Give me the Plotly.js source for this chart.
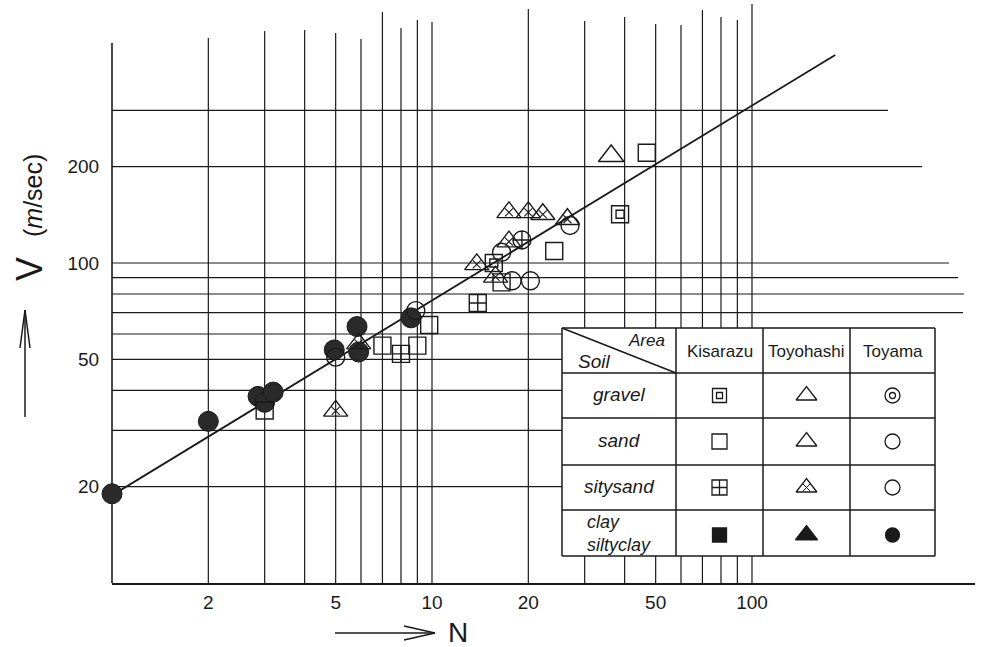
<!DOCTYPE html>
<html><head><meta charset="utf-8">
<script src="https://cdn.plot.ly/plotly-3.0.1.min.js"></script>
<style>body{margin:0;background:#fff}</style>
</head><body><div id="chart" style="width:992px;height:647px"></div>
<script>
// ---------- data (N value, V in m/sec) ----------
const kisGravelN = [15.6, 38.7];
const kisGravelV = [100, 142];
const kisSandN = [3.0, 7.0, 9.0, 9.8, 16.5, 24.1, 46.9];
const kisSandV = [34.6, 55.2, 55.2, 64, 87, 109, 221];
const kisSiltySandN = [8.0, 13.9];
const kisSiltySandV = [52, 75];
const toyoGravelN = [36.3];
const toyoGravelV = [216];
const toyoSiltySandN = [5.0, 5.9, 13.8, 15.8, 17.4, 17.4, 20, 22.2, 26.5];
const toyoSiltySandV = [34.5, 56, 99, 90.5, 116.6, 144, 144, 142, 137];
const toyamaSandN = [5.0, 8.9, 16.5, 17.8, 20.3, 27];
const toyamaSandV = [50.8, 71, 108, 88, 88, 131];
const toyamaCrossN = [19.1];
const toyamaCrossV = [118];
const toyamaClayN = [1.0, 2.0, 2.86, 3.0, 3.19, 4.95, 5.83, 5.9, 8.6];
const toyamaClayV = [19, 32, 38.3, 36.7, 39.5, 53.5, 63.3, 52.7, 67.4];
const fitN = [0.84, 182];
const fitV = [16.9, 447];

const gridN = [2,3,4,5,6,7,8,9,10,20,30,40,50,60,70,80,90,100];
const gridV = [20,30,40,50,60,70,80,90,100,200,300];
const xTickVals = [2,5,10,20,50,100];
const yTickVals = [20,50,100,200];

const areas = ['Kisarazu','Toyohashi','Toyama'];
const soils = ['gravel','sand','sitysand','clay<br>siltyclay'];

// ---------- layout geometry (pixels) ----------
const L=112, R=975, T=4, B=583;
const XR=[0, 2.6969], YR=[1, 2.8094];
const px = x => (x-L)/(R-L);
const py = y => (B-y)/(B-T);
const lx = n => (Math.log10(n)-XR[0])/(XR[1]-XR[0]);
const ly = v => (Math.log10(v)-YR[0])/(YR[1]-YR[0]);
const tbl = {x0:562, x1:935, y0:328, y1:556, cols:[676,763,850], rows:[373,418,465,510]};
const vTopPx = {2:38,3:31,4:30,5:33,6:39,7:12,8:28,9:20,10:22,20:9,30:21,40:17,50:24,60:25,70:10,80:17,90:20,100:4};
const hEndPx = {20:562,30:562,40:562,50:562,60:562,70:963,80:964,90:958,100:949,200:922,300:888};

const ink = '#1a1a1a';
const shapes = [];
function seg(x0,y0,x1,y1,w){shapes.push({type:'line',xref:'paper',yref:'paper',x0:x0,y0:y0,x1:x1,y1:y1,line:{color:ink,width:w||1.2},layer:'below'});}
// y axis line
seg(0, 0, 0, py(43), 1.6);
// vertical grid
gridN.forEach(n=>{
  const x=lx(n); const pxX = L + x*(R-L);
  const top = py(vTopPx[n]);
  if (pxX>tbl.x0 && pxX<tbl.x1){ seg(x,0,x,py(tbl.y1)); seg(x,py(tbl.y0),x,top); }
  else seg(x,0,x,top);
});
// horizontal grid
gridV.forEach(v=>{ seg(0, ly(v), px(hEndPx[v]), ly(v)); });
// legend table
function tl(x0,y0,x1,y1){shapes.push({type:'line',xref:'paper',yref:'paper',x0:px(x0),y0:py(y0),x1:px(x1),y1:py(y1),line:{color:ink,width:1.5}});}
tl(tbl.x0,tbl.y0,tbl.x1,tbl.y0); tl(tbl.x0,tbl.y1,tbl.x1,tbl.y1);
tl(tbl.x0,tbl.y0,tbl.x0,tbl.y1); tl(tbl.x1,tbl.y0,tbl.x1,tbl.y1);
tbl.cols.forEach(c=>tl(c,tbl.y0,c,tbl.y1));
tbl.rows.forEach(r=>tl(tbl.x0,r,tbl.x1,r));
tl(tbl.x0,tbl.y0,tbl.cols[0],tbl.rows[0]);
// axis arrows
tl(25,417,25,310); tl(25,310,20,348); tl(25,310,30,348);
tl(335,633,435,633); tl(435,633,404,626); tl(435,633,404,640);

const annotations = [];
function txt(t,x,y,size,opts){annotations.push(Object.assign({text:t,xref:'paper',yref:'paper',x:px(x),y:py(y),xanchor:'center',yanchor:'middle',showarrow:false,font:{family:'Liberation Sans, DejaVu Sans, sans-serif',size:size,color:ink}},opts||{}));}
txt('V  <span style="font-size:25px">(<i>m</i>/sec)</span>',29,218,36,{textangle:-90});
txt('N',458,632,28);
txt('<i>Area</i>',646,341,17);
txt('<i>Soil</i>',594,361,19);
const colCenters=[(tbl.cols[0]+tbl.cols[1])/2,(tbl.cols[1]+tbl.cols[2])/2,(tbl.cols[2]+tbl.x1)/2];
const rowCenters=[(tbl.rows[0]+tbl.rows[1])/2,(tbl.rows[1]+tbl.rows[2])/2,(tbl.rows[2]+tbl.rows[3])/2,(tbl.rows[3]+tbl.y1)/2];
areas.forEach((a,i)=>txt(a,colCenters[i],351,17));
soils.forEach((s,i)=>txt('<i>'+s+'</i>',(tbl.x0+tbl.cols[0])/2,rowCenters[i]+(i===3?0:-1),i===3?18:19,{align:'left'}));

// ---------- traces ----------
const base = {type:'scatter',mode:'markers',cliponaxis:false,showlegend:false,hoverinfo:'skip'};
function mk(N,V,symbol,size,extra){return Object.assign({},base,{x:N,y:V,marker:Object.assign({symbol:symbol,size:size,color:ink,line:{color:ink,width:1.4}},extra||{})});}
const traces = [
  {type:'scatter',mode:'lines',x:fitN,y:fitV,cliponaxis:false,showlegend:false,hoverinfo:'skip',line:{color:ink,width:1.8}},
  mk(toyamaClayN,toyamaClayV,'circle',20,{color:'#2a2a2a',line:{color:ink,width:1}}),
  mk(kisGravelN,kisGravelV,'square-open',17),
  mk(kisGravelN,kisGravelV,'square-open',8),
  mk(kisSandN,kisSandV,'square-open',17),
  mk(kisSiltySandN,kisSiltySandV,'square-cross-open',17),
  mk(toyoGravelN,toyoGravelV,'triangle-up-open',22),
  mk(toyoSiltySandN,toyoSiltySandV,'triangle-up-open',21),
  mk(toyoSiltySandN,toyoSiltySandV,'x-thin-open',8,{line:{color:ink,width:1.1}}),
  mk(toyamaSandN,toyamaSandV,'circle-open',18),
  mk(toyamaCrossN,toyamaCrossV,'circle-cross-open',18)
];
// legend markers (in table, drawn on helper axes in paper units)
const legSym = [
  [['square-open',14],['triangle-up-open',18],['circle-open',15]],
  [['square-open',15],['triangle-up-open',18],['circle-open',15]],
  [['square-cross-open',15],['triangle-up-open',18],['circle-open',15]],
  [['square',14],['triangle-up',19],['circle',14]]
];
legSym.forEach((row,r)=>row.forEach((s,c)=>{
  traces.push(Object.assign({},base,{xaxis:'x2',yaxis:'y2',x:[px(colCenters[c])],y:[py(rowCenters[r]+ (r===3?2:0))],
    marker:{symbol:s[0],size:s[1],color:ink,line:{color:ink,width:1.3}}}));
}));
traces.push(Object.assign({},base,{xaxis:'x2',yaxis:'y2',x:[px(colCenters[0])],y:[py(rowCenters[0])],marker:{symbol:'square-open',size:6,color:ink,line:{color:ink,width:1.3}}}));
traces.push(Object.assign({},base,{xaxis:'x2',yaxis:'y2',x:[px(colCenters[2])],y:[py(rowCenters[0])],marker:{symbol:'circle-open',size:6,color:ink,line:{color:ink,width:1.3}}}));
traces.push(Object.assign({},base,{xaxis:'x2',yaxis:'y2',x:[px(colCenters[1])],y:[py(rowCenters[2])],marker:{symbol:'x-thin-open',size:7,color:ink,line:{color:ink,width:1}}}));

const layout = {
  width:992, height:647, paper_bgcolor:'#fff', plot_bgcolor:'#fff',
  margin:{l:L, r:992-R, t:T, b:647-B},
  font:{family:'Liberation Sans, DejaVu Sans, sans-serif', color:ink},
  xaxis:{type:'log', range:XR, showgrid:false, zeroline:false, showline:true, linecolor:ink, linewidth:1.8,
    tickvals:xTickVals, ticktext:xTickVals.map(String), ticks:'outside', ticklen:1, tickcolor:'rgba(0,0,0,0)',
    tickfont:{size:19}},
  yaxis:{type:'log', range:YR, showgrid:false, zeroline:false, showline:false,
    tickvals:yTickVals, ticktext:yTickVals.map(String), ticks:'outside', ticklen:8, tickcolor:'rgba(0,0,0,0)',
    tickfont:{size:19}},
  xaxis2:{overlaying:'x', range:[0,1], visible:false, fixedrange:true},
  yaxis2:{overlaying:'y', range:[0,1], visible:false, fixedrange:true},
  shapes:shapes, annotations:annotations
};
Plotly.newPlot('chart', traces, layout, {staticPlot:true, displayModeBar:false});
</script></body></html>
